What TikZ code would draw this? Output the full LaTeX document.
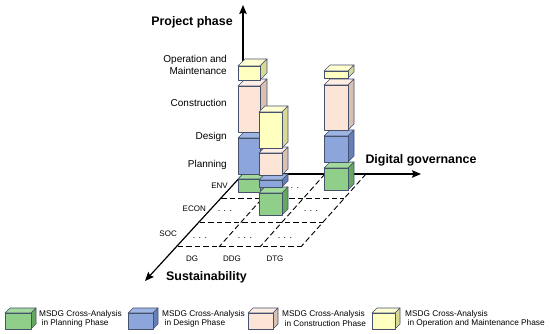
\documentclass[tikz,border=0pt]{standalone}
\usepackage{fontspec}
\setmainfont{Liberation Sans}
\usetikzlibrary{arrows.meta}
\definecolor{gF}{HTML}{90CF89}
\definecolor{gS}{HTML}{66A860}
\definecolor{gT}{HTML}{A3D99C}
\definecolor{bF}{HTML}{8CA6DC}
\definecolor{bS}{HTML}{667FBA}
\definecolor{bT}{HTML}{9EB5E4}
\definecolor{pF}{HTML}{FCE4D6}
\definecolor{pS}{HTML}{D9C0B1}
\definecolor{pT}{HTML}{FDEDE3}
\definecolor{yF}{HTML}{FFFFBF}
\definecolor{yS}{HTML}{D9D996}
\definecolor{yT}{HTML}{FFFFD2}
\definecolor{edgec}{HTML}{46516C}
\tikzset{
  cubeedge/.style={draw=edgec, line width=0.7pt, line join=round},
  axisline/.style={line width=1.2pt, -{Stealth[length=9pt,width=7.5pt,inset=1.5pt]}},
  gridline/.style={line width=0.9pt, dash pattern=on 5.5pt off 3pt},
  phaselbl/.style={font=\fontsize{10}{11.5}\selectfont, anchor=east, align=right, inner sep=0pt},
  smalllbl/.style={font=\fontsize{8}{9}\selectfont, inner sep=0pt},
  dotslbl/.style={font=\fontsize{9}{10}\selectfont, anchor=base, inner sep=0pt},
  titlelbl/.style={font=\fontsize{12.4}{14}\selectfont\bfseries, inner sep=0pt},
  legendlbl/.style={font=\fontsize{8.3}{9.5}\selectfont, anchor=west, inner sep=0pt},
}
% x, ybottom, ytop, width, depth, colour prefix
\newcommand{\mycube}[6]{%
  \filldraw[cubeedge, fill=#6T] (#1,#3) -- ++(#5,-#5) -- ++(#4,0) -- ++(-#5,#5) -- cycle;
  \filldraw[cubeedge, fill=#6S] (#1+#4,#2) -- ++(#5,-#5) -- (#1+#4+#5,#3-#5) -- (#1+#4,#3) -- cycle;
  \filldraw[cubeedge, fill=#6F] (#1,#2) rectangle (#1+#4,#3);
}
\begin{document}
\begin{tikzpicture}[x=1pt,y=-1pt]
\useasboundingbox (0,0) rectangle (550,334);
% axes coordinates
\coordinate (O) at (243,174);
\coordinate (Ztop) at (243,5);
\coordinate (Xend) at (421,174);
\coordinate (Send) at (145,281);
% grid
\coordinate (r1a) at (221.3,198.3); \coordinate (r1b) at (344.3,198.3);
\coordinate (r2a) at (199.6,222.6); \coordinate (r2b) at (322.6,222.6);
\coordinate (r3a) at (177.9,246.9); \coordinate (r3b) at (300.9,246.9);
\coordinate (c1a) at (284,174); \coordinate (c1b) at (219,246.9);
\coordinate (c2a) at (325,174); \coordinate (c2b) at (260,246.9);
\coordinate (c3a) at (366,174); \coordinate (c3b) at (300.9,246.9);
\draw[gridline] (r1a) -- (r1b);
\draw[gridline] (r2a) -- (r2b);
\draw[gridline] (r3a) -- (r3b);
\draw[gridline] (c1a) -- (c1b);
\draw[gridline] (c2a) -- (c2b);
\draw[gridline] (c3a) -- (c3b);
% axes
\draw[axisline] (O) -- (Ztop);
\draw[axisline] (O) -- (Xend);
\draw[axisline] (O) -- (Send);
% titles
\node[titlelbl] (tp) at (192,22) {Project phase};
\node[titlelbl] (tg) at (421,160) {Digital governance};
\node[titlelbl] (ts) at (206.5,277) {Sustainability};
% phase labels
\node[phaselbl] (lom) at (227,65) {Operation and\\Maintenance};
\node[phaselbl] (lc) at (227,103) {Construction};
\node[phaselbl] (ld) at (227,137) {Design};
\node[phaselbl] (lp) at (227,164.5) {Planning};
% row / column labels
\node[smalllbl, anchor=east] (env) at (228,186) {ENV};
\node[smalllbl, anchor=east] (econ) at (206,209) {ECON};
\node[smalllbl, anchor=east] (soc) at (177,234) {SOC};
\node[smalllbl] (dg) at (192,259) {DG};
\node[smalllbl] (ddg) at (232,259) {DDG};
\node[smalllbl] (dtg) at (275,258.5) {DTG};
% dots
\node[dotslbl] (d1) at (292,188.5) {. . .};
\node[dotslbl] (d2) at (225,212) {. . .};
\node[dotslbl] (d3) at (311,212) {. . .};
\node[dotslbl] (d4) at (200,238.5) {. . .};
\node[dotslbl] (d5) at (245,238.5) {. . .};
\node[dotslbl] (d6) at (285,238.5) {. . .};
% stack 1
\mycube{238}{192}{179}{22}{7}{g}
\mycube{238}{174}{138}{22}{7}{b}
\mycube{238}{132}{86}{22}{7}{p}
\mycube{238}{80}{66}{22}{7}{y}
% stack 3
\mycube{324}{190}{168}{24}{6}{g}
\mycube{324}{162}{136}{24}{6}{b}
\mycube{324}{130}{85}{24}{6}{p}
\mycube{324}{78}{71}{24}{6}{y}
% stack 2
\mycube{259}{215}{193}{23}{6}{g}
\mycube{259}{187}{180}{23}{6}{b}
\mycube{259}{175}{153}{23}{6}{p}
\mycube{259}{148}{112}{23}{6}{y}
% legend
\mycube{5}{329}{313}{26}{5}{g}
\node[legendlbl] (l1a) at (39,314) {MSDG Cross-Analysis};
\node[legendlbl] (l1b) at (41.5,323.5) {in Planning Phase};
\mycube{128}{329}{313}{25}{5}{b}
\node[legendlbl] (l2a) at (162,314) {MSDG Cross-Analysis};
\node[legendlbl] (l2b) at (164.5,323.5) {in Design Phase};
\mycube{248}{329}{313}{25}{5}{p}
\node[legendlbl] (l3a) at (282,314) {MSDG Cross-Analysis};
\node[legendlbl] (l3b) at (284.5,323.5) {in Construction Phase};
\mycube{372}{329}{313}{23}{5}{y}
\node[legendlbl] (l4a) at (405,314) {MSDG Cross-Analysis};
\node[legendlbl] (l4b) at (407.5,323.5) {in Operation and Maintenance Phase};
\end{tikzpicture}
\end{document}
